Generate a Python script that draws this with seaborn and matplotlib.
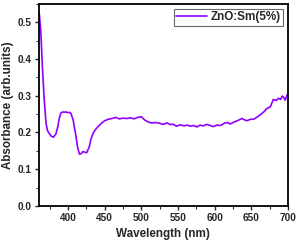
import matplotlib
matplotlib.use("Agg")
import matplotlib.pyplot as plt
import seaborn as sns
import pandas as pd
from matplotlib.ticker import MultipleLocator

# values
wavelength = [360, 361, 363, 365, 367.5, 370, 372, 374.5, 377, 380, 383.5, 386, 388,
              390, 392.5, 395, 397, 399.5, 402, 404, 407, 409, 411, 413, 415.5, 418,
              420, 423, 425.5, 429, 431, 434, 437, 440.5, 445, 450, 455, 460, 465,
              470, 475, 480, 485, 490, 495, 500, 504.5, 509, 513.5, 519, 525, 530,
              535, 540, 543, 548, 553, 558, 563, 567, 571, 576, 580, 585, 589, 594,
              598, 603, 608, 614, 618, 621, 626, 632, 637, 641, 644, 649, 653, 658,
              664.5, 668, 671, 676, 680, 684, 687, 690, 692, 694, 696, 698, 700]
absorbance = [0.53, 0.52, 0.47, 0.38, 0.29, 0.225, 0.205, 0.197, 0.19, 0.187, 0.196,
              0.215, 0.238, 0.252, 0.256, 0.255, 0.256, 0.254, 0.255, 0.252, 0.234,
              0.21, 0.188, 0.16, 0.141, 0.142, 0.148, 0.146, 0.145, 0.161, 0.18,
              0.197, 0.207, 0.215, 0.224, 0.232, 0.236, 0.238, 0.241, 0.237, 0.239,
              0.238, 0.240, 0.237, 0.241, 0.243, 0.234, 0.229, 0.226, 0.227, 0.225,
              0.222, 0.226, 0.221, 0.223, 0.217, 0.221, 0.218, 0.220, 0.217, 0.219,
              0.215, 0.22, 0.218, 0.222, 0.219, 0.216, 0.220, 0.219, 0.226, 0.227,
              0.223, 0.228, 0.233, 0.238, 0.234, 0.232, 0.236, 0.236, 0.242, 0.252,
              0.258, 0.265, 0.27, 0.29, 0.287, 0.293, 0.29, 0.299, 0.296, 0.288,
              0.298, 0.306]
series_name = "ZnO:Sm(5%)"

df = pd.DataFrame({"Wavelength": wavelength, "Absorbance": absorbance})
df["sample"] = series_name

sns.set_style("ticks")
plt.rcParams["font.family"] = ["Liberation Sans", "DejaVu Sans"]
plt.rcParams["font.weight"] = "bold"

fig = plt.figure(figsize=(3.0, 2.44), dpi=100)
ax = fig.add_axes([0.129, 0.156, 0.831, 0.828])

sns.lineplot(data=df, x="Wavelength", y="Absorbance", hue="sample",
             palette=["#8F00FF"], linewidth=1.2, ax=ax)

ax.set_xlim(360, 700)
ax.set_ylim(0, 0.55)
ax.xaxis.set_minor_locator(MultipleLocator(25))
ax.yaxis.set_major_locator(MultipleLocator(0.1))
ax.yaxis.set_minor_locator(MultipleLocator(0.05))
ax.set_xticks([400, 450, 500, 550, 600, 650, 700])
ax.yaxis.set_major_formatter(matplotlib.ticker.FormatStrFormatter("%.1f"))

ax.tick_params(which="major", length=3, width=1, labelsize=7.2, direction="out", pad=2)
ax.tick_params(which="minor", length=2, width=0.8, direction="out")
for lbl in ax.get_xticklabels() + ax.get_yticklabels():
    lbl.set_fontweight("bold")

for s in ax.spines.values():
    s.set_visible(True)
    s.set_linewidth(1.3)
    s.set_color("black")

ax.set_xlabel("Wavelength (nm)", fontsize=8.4, fontweight="bold", labelpad=4)
ax.set_ylabel("Absorbance (arb.units)", fontsize=8.4, fontweight="bold", labelpad=3)

leg = ax.legend(loc="upper right", fontsize=8.4, frameon=True, fancybox=False,
                handlelength=2.6, borderpad=0.22, handletextpad=0.35,
                borderaxespad=0.4)
leg.get_frame().set_edgecolor("#444444")
leg.get_frame().set_linewidth(0.8)
for t in leg.get_texts():
    t.set_fontweight("bold")

fig.savefig("out.png", dpi=100)
plt.close(fig)
